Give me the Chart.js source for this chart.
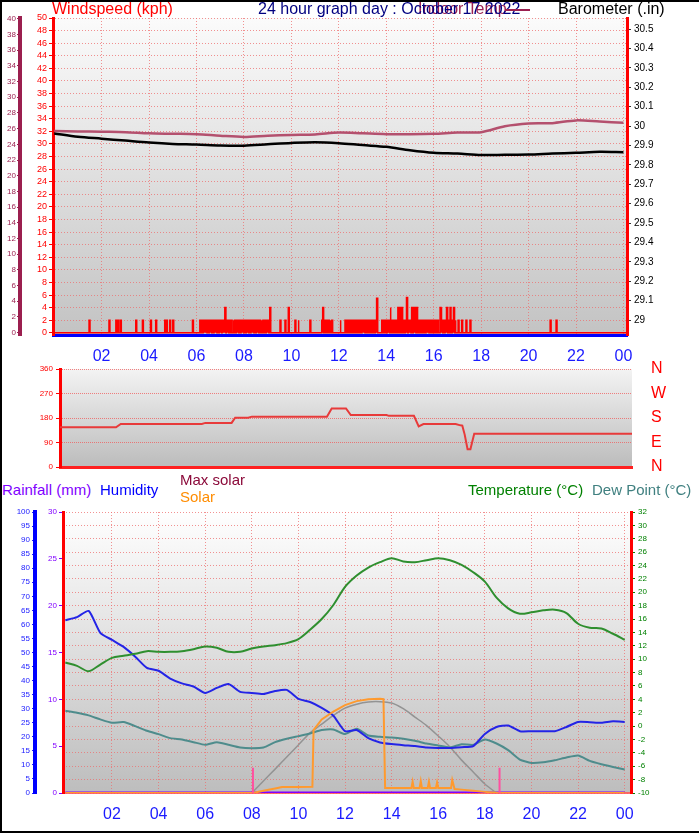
<!DOCTYPE html>
<html>
<head>
<meta charset="utf-8">
<script src="https://cdn.jsdelivr.net/npm/chart.js@4.4.0/dist/chart.umd.min.js"></script>
<style>
  body { margin: 0; background: #fff; }
  #wrap { position: relative; width: 699px; height: 833px; overflow: hidden; font-family: "Liberation Sans", Arial, sans-serif; }
  canvas { position: absolute; left: 0; }
  .lbl { position: absolute; white-space: nowrap; line-height: 18px; }
  #frame { position: absolute; left: 0; top: 0; width: 699px; height: 833px; box-sizing: border-box;
           border-left: 2px solid #000; border-top: 2px solid #000; border-bottom: 2px solid #000; pointer-events: none; }
</style>
</head>
<body>
<div id="wrap">
  <canvas id="topChart" width="699" height="370" style="top:0"></canvas>
  <canvas id="dirChart" width="699" height="122" style="top:358px"></canvas>
  <canvas id="bottomChart" width="699" height="333" style="top:500px"></canvas>

  <span class="lbl" style="left:52px;top:0;font-size:16px;color:#ff0000">Windspeed (kph)</span>
  <span class="lbl" style="left:418px;top:0;font-size:16px;color:#9b1f4f">Indoor Temp</span>
  <span class="lbl" style="left:258px;top:0;font-size:16px;color:#000080">24 hour graph day : October 17 2022</span>
  <span style="position:absolute;left:505px;top:9px;width:25px;border-top:2px solid #9b1f4f"></span>
  <span class="lbl" style="left:558px;top:0;font-size:16px;color:#000">Barometer (.in)</span>

  <span class="lbl" style="left:2px;top:481px;font-size:15px;color:#8000ff">Rainfall (mm)</span>
  <span class="lbl" style="left:100px;top:481px;font-size:15px;color:#0000ff">Humidity</span>
  <span class="lbl" style="left:180px;top:471px;font-size:15px;color:#8b0a3a">Max solar</span>
  <span class="lbl" style="left:180px;top:488px;font-size:15px;color:#ff8c00">Solar</span>
  <span class="lbl" style="left:468px;top:481px;font-size:15px;color:#008000">Temperature (°C)</span>
  <span class="lbl" style="left:592px;top:481px;font-size:15px;color:#408080">Dew Point (°C)</span>
  <div id="frame"></div>
</div>
<script>
// ---- time axes ----
const hourTicks = [2, 4, 6, 8, 10, 12, 14, 16, 18, 20, 22, 24];
const hourly = [0, 1, 2, 3, 4, 5, 6, 7, 8, 9, 10, 11, 12, 13, 14, 15, 16, 17, 18, 19, 20, 21, 22, 23, 24];
const halfHours = [0, 0.5, 1, 1.5, 2, 2.5, 3, 3.5, 4, 4.5, 5, 5.5, 6, 6.5, 7, 7.5, 8, 8.5, 9, 9.5, 10, 10.5, 11, 11.5,
  12, 12.5, 13, 13.5, 14, 14.5, 15, 15.5, 16, 16.5, 17, 17.5, 18, 18.5, 19, 19.5, 20, 20.5, 21, 21.5, 22, 22.5, 23, 23.5, 24];

// ---- top panel: wind, barometer, indoor temp ----
const windTicks = [0, 2, 4, 6, 8, 10, 12, 14, 16, 18, 20, 22, 24, 26, 28, 30, 32, 34, 36, 38, 40, 42, 44, 46, 48, 50];
const indoorTicks = [0, 2, 4, 6, 8, 10, 12, 14, 16, 18, 20, 22, 24, 26, 28, 30, 32, 34, 36, 38, 40];
const baroTicks = [29.0, 29.1, 29.2, 29.3, 29.4, 29.5, 29.6, 29.7, 29.8, 29.9, 30.0, 30.1, 30.2, 30.3, 30.4, 30.5];

const barometer = [29.962, 29.945, 29.935, 29.925, 29.915, 29.908, 29.905, 29.900, 29.899, 29.906, 29.913, 29.917, 29.912,
  29.902, 29.893, 29.875, 29.862, 29.858, 29.851, 29.852, 29.853, 29.858, 29.862, 29.867, 29.865];
const indoorTemp = [25.7, 25.65, 25.6, 25.55, 25.4, 25.35, 25.3, 25.1, 24.95, 25.1, 25.2, 25.25, 25.5,
  25.4, 25.3, 25.3, 25.35, 25.5, 25.55, 26.3, 26.65, 26.7, 27.05, 26.9, 26.75];

// wind gusts [hour, kph]; the rest of the day reads 0
const windGusts = [
  [1.49, 2], [2.33, 2], [2.62, 2], [2.70, 2], [2.81, 2], [3.46, 2], [3.74, 2], [4.08, 2], [4.30, 2], [4.68, 2], [4.75, 2], [4.89, 2], [5.02, 2], [5.85, 2],
  [6.16, 2], [6.22, 2], [6.30, 2], [6.36, 2], [6.42, 2], [6.50, 2], [6.56, 2], [6.62, 2], [6.70, 2], [6.76, 2], [6.84, 2], [6.90, 2],
  [6.98, 2], [7.04, 2], [7.10, 2], [7.16, 2], [7.22, 4], [7.28, 2], [7.34, 2], [7.42, 2], [7.48, 2], [7.56, 2], [7.62, 2], [7.70, 2],
  [7.76, 2], [7.84, 2], [7.90, 2], [7.98, 2], [8.04, 2], [8.12, 2], [8.18, 2], [8.26, 2], [8.32, 2], [8.40, 2], [8.46, 2], [8.54, 2],
  [8.60, 2], [8.68, 2], [8.74, 2], [8.82, 2], [8.88, 2], [8.96, 2], [9.03, 2],
  [9.11, 4], [9.54, 2], [9.75, 2], [9.89, 4], [10.17, 2], [10.30, 2], [10.80, 2], [11.30, 2], [11.34, 4], [11.42, 2], [11.50, 2],
  [11.58, 2], [11.65, 2], [11.72, 2], [12.07, 2], [12.28, 2], [12.36, 2], [12.44, 2], [12.52, 2], [12.60, 2], [12.68, 2], [12.76, 2],
  [12.84, 2], [12.92, 2], [13.00, 2], [13.08, 2], [13.16, 2], [13.24, 2], [13.32, 2], [13.40, 2], [13.48, 2], [13.56, 2], [13.62, 5.5],
  [13.83, 2], [13.90, 2], [13.98, 2], [14.06, 2], [14.12, 2], [14.18, 4], [14.26, 2], [14.34, 2], [14.42, 2], [14.51, 4], [14.59, 4],
  [14.67, 4], [14.75, 2], [14.82, 2], [14.88, 5.6], [14.95, 2], [15.02, 2], [15.09, 4], [15.16, 4], [15.23, 4], [15.30, 4], [15.38, 2],
  [15.46, 2], [15.54, 2], [15.62, 2], [15.70, 2], [15.78, 2], [15.86, 2], [15.94, 2], [16.02, 2], [16.10, 2], [16.18, 2], [16.29, 4],
  [16.36, 2], [16.44, 2], [16.50, 2], [16.57, 4], [16.64, 2], [16.71, 4], [16.80, 2], [16.86, 4], [16.92, 2], [17.05, 2], [17.20, 2],
  [17.38, 2], [17.55, 2], [20.93, 2], [21.18, 2]
];

// ---- middle panel: wind direction ----
const dirTimes = [0, 2.35, 2.55, 5.95, 6.1, 7.2, 7.35, 7.9, 8.05, 11.2, 11.4, 12.0, 12.2, 13.7, 13.8, 14.85, 15.05, 15.25,
  16.6, 16.8, 16.88, 16.98, 17.1, 17.22, 17.38, 24];
const dirValues = [146, 146, 158, 158, 162, 162, 181, 181, 185, 185, 215, 215, 191, 191, 188, 188, 149, 158,
  158, 153, 152, 119, 65, 65, 122, 122];
const dirTicks = [0, 90, 180, 270, 360];
const dirLetters = ['N', 'E', 'S', 'W', 'N'];

// ---- bottom panel ----
const temperature = [9.5, 9.0, 8.2, 9.2, 10.2, 10.5, 10.8, 11.2, 11.1, 11.1, 11.2, 11.5, 11.9, 11.7, 11.1, 11.1, 11.6, 11.9,
  12.1, 12.4, 13.0, 14.4, 16.0, 18.1, 20.8, 22.5, 23.7, 24.5, 25.1, 24.6, 24.5, 24.8, 25.1, 24.8, 24.1, 23.0, 21.6, 19.2,
  17.6, 16.8, 17.0, 17.3, 17.4, 16.9, 15.3, 14.7, 14.6, 13.8, 12.9];
const humidity = [61.5, 62.6, 64.8, 57, 54.5, 52, 48.5, 44.5, 43.5, 40.7, 39, 37.9, 35.6, 37.4, 38.8, 36, 35.6, 35.2,
  36.3, 36.7, 33.5, 32.4, 30.3, 27.5, 22, 22.4, 19.5, 18, 17.4, 17, 16.7, 16.2, 16, 16, 16.3, 16.7, 21, 23.5,
  24, 22, 22, 22, 22, 23.5, 25.3, 25.2, 25, 25.5, 25.3];
const dewPoint = [2.3, 2.0, 1.6, 1.0, 0.5, 0.6, 0.0, -0.7, -1.2, -1.8, -2.0, -2.4, -2.8, -2.4, -2.8, -3.2, -3.3, -3.2,
  -2.4, -1.9, -1.5, -1.1, -0.6, -0.5, -1.2, -0.4, -1.4, -1.6, -1.7, -1.9, -2.2, -2.6, -2.9, -3.2, -2.7, -2.8, -2.0, -2.6,
  -3.6, -5.0, -5.5, -5.4, -5.1, -4.7, -4.4, -5.2, -5.7, -6.1, -6.5];
const rainTimes = [0, 24];
const rainfall = [0, 0];

const solarTimes = [0, 8.05, 8.5, 9.0, 9.3, 10.0, 10.6, 10.65, 11.0, 11.5, 12.0, 12.5, 13.0, 13.5, 13.65, 13.72, 14.5, 14.85,
  14.9, 14.95, 15.2, 15.25, 15.3, 15.55, 15.6, 15.65, 15.9, 15.95, 16.0, 16.55, 16.6, 16.7, 17.0, 17.5, 18.0, 18.6, 24];
const solar = [0, 0, 8, 16, 21, 21, 22, 224, 262, 290, 313, 327, 334, 335, 334, 18, 18, 18,
  40, 18, 18, 42, 18, 18, 40, 18, 18, 38, 18, 18, 46, 14, 12, 8, 4, 0, 0];
const maxSolarTimes = [8.0, 8.5, 9.0, 9.5, 10.0, 10.5, 11.0, 11.5, 12.0, 12.5, 13.0, 13.5, 14.0, 14.5, 15.0, 15.5, 16.0,
  16.5, 17.0, 17.5, 18.0, 18.5];
const maxSolar = [0, 43, 85, 128, 171, 214, 245, 276, 302, 316, 324, 325, 320, 300, 270, 240, 203, 164, 117, 75, 32, 0];
const sunTimes = [8.05, 18.63];
const sunMarkHeight = 2.7;

const humidityTicks = [0, 5, 10, 15, 20, 25, 30, 35, 40, 45, 50, 55, 60, 65, 70, 75, 80, 85, 90, 95, 100];
const rainTicks = [0, 5, 10, 15, 20, 25, 30];
const tempTicks = [-10, -8, -6, -4, -2, 0, 2, 4, 6, 8, 10, 12, 14, 16, 18, 20, 22, 24, 26, 28, 30, 32];

// ---- helpers ----
const FONT = '"Liberation Sans", Arial, sans-serif';
const gridPink = 'rgba(238,110,110,0.75)';
const pairs = (xs, ys) => xs.map((x, i) => ({ x: x, y: ys[i] }));
const setTicks = list => scale => { scale.ticks = list.map(v => ({ value: v })); };
const fixW = w => scale => { scale.width = w; };
const fixH = h => scale => { scale.height = h; };
const hourLabel = v => String(v % 24).padStart(2, '0');

const bgPlugin = {
  id: 'bg',
  beforeDraw(chart, args, opts) {
    const { ctx, chartArea: a } = chart;
    const g = ctx.createLinearGradient(0, a.top, 0, a.bottom);
    g.addColorStop(0, opts.top);
    g.addColorStop(1, opts.bottom);
    ctx.save();
    ctx.fillStyle = g;
    ctx.fillRect(a.left, a.top, a.right - a.left, a.bottom - a.top);
    ctx.restore();
  }
};

Chart.defaults.font.family = FONT;
Chart.defaults.animation = false;
Chart.defaults.responsive = false;
Chart.defaults.devicePixelRatio = 1;
Chart.defaults.plugins.legend.display = false;
Chart.defaults.plugins.tooltip.enabled = false;
Chart.defaults.elements.point.radius = 0;

// wind gusts become narrow spikes on a zero line
const windPoints = [{ x: -0.05, y: 0 }];
windGusts.forEach(([t, v]) => {
  windPoints.push({ x: t - 0.02, y: 0 }, { x: t - 0.02, y: v }, { x: t + 0.02, y: v }, { x: t + 0.02, y: 0 });
});
windPoints.push({ x: 24.15, y: 0 });

new Chart(document.getElementById('topChart'), {
  type: 'line',
  data: {
    datasets: [
      { data: windPoints, yAxisID: 'wind', borderColor: '#ff0000', borderWidth: 1.5, tension: 0 },
      { data: pairs(hourly, barometer), yAxisID: 'baro', borderColor: '#000', borderWidth: 2.5, tension: 0.3 },
      { data: pairs(hourly, indoorTemp), yAxisID: 'indoor', borderColor: '#b4506e', borderWidth: 2.5, tension: 0.3 }
    ]
  },
  options: {
    layout: { padding: { top: 18, left: 0, right: 0, bottom: 0 } },
    plugins: { bg: { top: '#fbfbfb', bottom: '#c3c3c3' } },
    scales: {
      x: {
        type: 'linear', min: -0.05, max: 24.15,
        afterBuildTicks: setTicks(hourTicks), afterFit: fixH(35),
        ticks: { callback: hourLabel, color: '#1a1aff', font: { size: 16 }, padding: 12, maxRotation: 0, autoSkip: false },
        grid: { color: gridPink, drawTicks: false },
        border: { color: '#0000ff', width: 3, dash: [1, 2] }
      },
      indoor: {
        position: 'left', weight: 2, min: -0.3, max: 40.1,
        afterBuildTicks: setTicks(indoorTicks), afterFit: fixW(20),
        ticks: { color: '#9b1f4f', font: { size: 8 }, padding: 1, autoSkip: false },
        grid: { drawOnChartArea: false, tickLength: 3, tickColor: '#9b1f4f' },
        border: { color: '#9b1f4f', width: 4 }
      },
      wind: {
        position: 'left', weight: 1, min: -0.35, max: 50,
        afterBuildTicks: setTicks(windTicks), afterFit: fixW(33),
        ticks: { color: '#ff0000', font: { size: 9 }, padding: 2, autoSkip: false },
        grid: { color: gridPink, tickLength: 4, tickColor: '#ff0000' },
        border: { color: '#ff0000', width: 3, dash: [1, 2] }
      },
      baro: {
        position: 'right', min: 28.923, max: 30.557,
        afterBuildTicks: setTicks(baroTicks), afterFit: fixW(72),
        ticks: { color: '#000', font: { size: 10 }, padding: 3, autoSkip: false, callback: v => String(Math.round(v * 10) / 10) },
        grid: { drawOnChartArea: false, tickLength: 4, tickColor: '#333' },
        border: { color: '#ff0000', width: 3 }
      }
    }
  },
  plugins: [bgPlugin]
});

new Chart(document.getElementById('dirChart'), {
  type: 'line',
  data: {
    datasets: [
      { data: pairs(dirTimes, dirValues), yAxisID: 'dir', borderColor: '#e83a3a', borderWidth: 2, tension: 0 }
    ]
  },
  options: {
    layout: { padding: { top: 11, left: 0, right: 0, bottom: 0 } },
    plugins: { bg: { top: '#f3f3f3', bottom: '#bcbcbc' } },
    scales: {
      x: {
        type: 'linear', min: 0, max: 24, afterFit: fixH(13),
        ticks: { display: false },
        grid: { display: false },
        border: { color: '#ff2020', width: 3 }
      },
      dir: {
        position: 'left', min: 0, max: 360,
        afterBuildTicks: setTicks(dirTicks), afterFit: fixW(60),
        ticks: { color: '#ff0000', font: { size: 8 }, padding: 3, autoSkip: false },
        grid: { color: 'rgba(240,90,90,0.75)', tickLength: 4, tickColor: '#ff0000' },
        border: { color: '#ff0000', width: 3, dash: [1, 1] }
      },
      dirRight: {
        position: 'right', min: 0, max: 360,
        afterBuildTicks: setTicks(dirTicks), afterFit: fixW(67),
        ticks: { color: '#ff0000', font: { size: 16 }, padding: 0, autoSkip: false,
                 callback: v => dirLetters[dirTicks.indexOf(v)] },
        grid: { drawOnChartArea: false, drawTicks: true, tickLength: 19, tickColor: 'rgba(0,0,0,0)' },
        border: { display: false }
      }
    }
  },
  plugins: [bgPlugin]
});

const sunPoints = [];
sunTimes.forEach((t, i) => {
  if (i > 0) sunPoints.push({ x: t - 0.01, y: null });
  sunPoints.push({ x: t, y: 0 }, { x: t, y: sunMarkHeight });
});

new Chart(document.getElementById('bottomChart'), {
  type: 'line',
  data: {
    datasets: [
      { data: sunPoints, yAxisID: 'rain', borderColor: '#ff4fa0', borderWidth: 2, tension: 0, spanGaps: false },
      { data: pairs(halfHours, temperature), yAxisID: 'temp', borderColor: '#2f8f2f', borderWidth: 2, tension: 0.3 },
      { data: pairs(solarTimes, solar), yAxisID: 'solar', borderColor: '#ff9a2e', borderWidth: 2, tension: 0 },
      { data: pairs(halfHours, humidity), yAxisID: 'hum', borderColor: '#2424e6', borderWidth: 2, tension: 0.2 },
      { data: pairs(halfHours, dewPoint), yAxisID: 'temp', borderColor: '#4e8c8c', borderWidth: 2, tension: 0.2 },
      { data: pairs(maxSolarTimes, maxSolar), yAxisID: 'solar', borderColor: '#939393', borderWidth: 1.5, tension: 0.3 },
      { data: pairs(rainTimes, rainfall), yAxisID: 'rain', borderColor: '#8000ff', borderWidth: 3, tension: 0 }
    ]
  },
  options: {
    layout: { padding: { top: 12, left: 0, right: 0, bottom: 0 } },
    plugins: { bg: { top: '#ffffff', bottom: '#bdbdbd' } },
    scales: {
      x: {
        type: 'linear', min: -0.1, max: 24.27,
        afterBuildTicks: setTicks(hourTicks), afterFit: fixH(40),
        ticks: { callback: hourLabel, color: '#1a1aff', font: { size: 16 }, padding: 12, maxRotation: 0, autoSkip: false },
        grid: { color: gridPink, drawTicks: false },
        border: { color: 'rgba(255,90,90,0.9)', width: 2, dash: [1, 2] }
      },
      hum: {
        position: 'left', weight: 2, min: 0, max: 100,
        afterBuildTicks: setTicks(humidityTicks), afterFit: fixW(35),
        ticks: { color: '#2020ff', font: { size: 8 }, padding: 2, autoSkip: false },
        grid: { drawOnChartArea: false, tickLength: 3, tickColor: '#2020ff' },
        border: { color: '#0000ff', width: 4 }
      },
      rain: {
        position: 'left', weight: 1, min: 0, max: 30,
        afterBuildTicks: setTicks(rainTicks), afterFit: fixW(28),
        ticks: { color: '#8000ff', font: { size: 8 }, padding: 2, autoSkip: false },
        grid: { drawOnChartArea: false, tickLength: 4, tickColor: '#8000ff' },
        border: { color: '#ff0000', width: 3 }
      },
      temp: {
        position: 'right', min: -10, max: 32,
        afterBuildTicks: setTicks(tempTicks), afterFit: fixW(68),
        ticks: { color: '#008000', font: { size: 8 }, padding: 3, autoSkip: false },
        grid: { color: gridPink, tickLength: 4, tickColor: '#008000' },
        border: { color: '#ff0000', width: 3, dash: [1, 2] }
      },
      solar: { display: false, min: 0, max: 1000 }
    }
  },
  plugins: [bgPlugin]
});
</script>
</body>
</html>
